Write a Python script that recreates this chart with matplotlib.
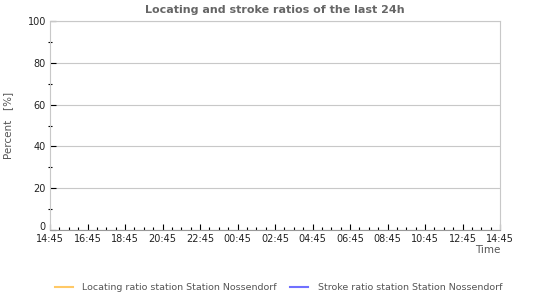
import matplotlib
matplotlib.use("Agg")
import matplotlib.pyplot as plt
import matplotlib.transforms as mtransforms
from matplotlib.ticker import MultipleLocator

# ── Data ────────────────────────────────────────────────────────────────
TITLE = "Locating and stroke ratios of the last 24h"
TIME_LABELS = ["14:45", "16:45", "18:45", "20:45", "22:45", "00:45", "02:45",
               "04:45", "06:45", "08:45", "10:45", "12:45", "14:45"]
# hours since 14:45 yesterday; no samples were recorded
locating_t = []
locating_pct = []
stroke_t = []
stroke_pct = []
SERIES = ["Locating ratio station Station Nossendorf",
          "Stroke ratio station Station Nossendorf"]
COLORS = ["#FFC966", "#7070FF"]

TEXT = "#555555"
GRID = "#C8C8C8"

fig = plt.figure(figsize=(5.5, 3.0), dpi=100)
ax = fig.add_axes([50 / 550, 1 - 230 / 300, 450 / 550, 209 / 300])

l1, = ax.plot(locating_t, locating_pct, color=COLORS[0], lw=1.5, label=SERIES[0])
l2, = ax.plot(stroke_t, stroke_pct, color=COLORS[1], lw=1.5, label=SERIES[1])

ax.set_xlim(0, 24)
ax.set_ylim(0, 100)
ax.set_xticks(range(0, 25, 2))
ax.set_xticklabels(TIME_LABELS)
ax.xaxis.set_minor_locator(MultipleLocator(0.5))
ax.set_yticks(range(0, 101, 20))
ax.yaxis.set_minor_locator(MultipleLocator(10))

ax.tick_params(axis="both", which="major", direction="in", labelsize=7,
               color="black", length=4, width=0.8, pad=3)
ax.tick_params(axis="both", which="minor", direction="in", color="black",
               length=2, width=0.8)
ax.tick_params(axis="y", which="minor", direction="inout", length=3)
for lab in ax.get_xticklabels() + ax.get_yticklabels():
    lab.set_color("#222222")

# lift the "0" label a bit so it clears the first time label
zero = ax.get_yticklabels()[0]
zero.set_transform(zero.get_transform()
                   + mtransforms.ScaledTranslation(0, 3 / 72, fig.dpi_scale_trans))

ax.grid(axis="y", which="major", color=GRID, lw=0.8)
for s in ax.spines.values():
    s.set_color(GRID)
    s.set_linewidth(0.8)
ax.spines["bottom"].set_color("#999999")

ax.set_title(TITLE, fontsize=8, fontweight="bold", color="#666666", pad=6)
ax.set_ylabel("Percent   [%]", fontsize=7.5, color=TEXT, labelpad=10)
ax.text(1.0, -0.07, "Time", transform=ax.transAxes, ha="right", va="top",
        fontsize=7.5, color=TEXT)

fig.legend(handles=[l1, l2], loc="lower left", bbox_to_anchor=(55 / 550, 0.027),
           borderaxespad=0, borderpad=0, ncol=2, frameon=False, fontsize=6.8,
           labelcolor=TEXT, handlelength=1.9, handletextpad=1.0,
           columnspacing=1.4)

fig.savefig("out.png", dpi=100)
